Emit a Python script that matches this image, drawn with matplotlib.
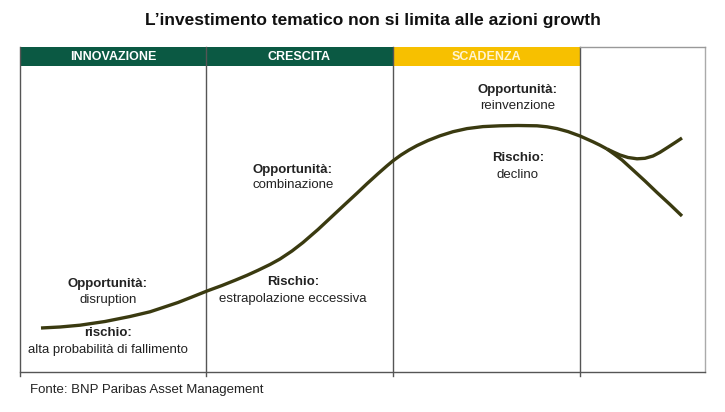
import matplotlib.pyplot as plt
import matplotlib

matplotlib.rcParams['font.family'] = ['Liberation Sans', 'DejaVu Sans']

# fasi del ciclo (bordi delle colonne, in pixel)
stages = ['INNOVAZIONE', 'CRESCITA', 'SCADENZA', '']
stage_edges = [20, 206, 393, 580, 705]
stage_colors = ['#0b5943', '#0b5943', '#f7c000', 'white']
stage_text_colors = ['white', 'white', '#fff4d0', 'white']

# curva principale
curve_x = [41, 60, 80, 105, 130, 150, 163, 178, 192, 207, 222, 235, 247, 258,
           270, 280, 292, 303, 318, 333, 345, 357, 367, 378, 387, 393, 401,
           409, 417, 428, 440, 453, 467, 483, 500, 518, 537, 547, 557, 568,
           580, 593, 600, 607]
curve_y = [328, 327, 325.2, 321.5, 316.5, 311.8, 307.5, 302.5, 297, 291, 285.5, 280.3, 275.3, 270.3,
           264.5, 259, 251, 242.5, 229.5, 215.5, 204.3, 193.2, 183.7, 173.7, 165.8, 160.8, 155,
           150, 145.6, 140.5, 135.8, 131.7, 128.6, 126.6, 125.8, 125.5, 125.8, 126.8, 128.6, 131.6,
           136, 141.8, 145.2, 149]
# ramo superiore (reinvenzione) e inferiore (declino)
up_x = [607, 614, 620, 628, 637, 645, 653, 660, 668, 676, 682]
up_y = [149, 152.3, 155, 157.5, 158.8, 158.3, 156, 152.3, 147.2, 142, 138]
down_x = [607, 614, 622, 633, 645, 657, 670, 682]
down_y = [149, 154, 160, 170, 181, 192.5, 204.5, 216]

labels = [
    (108, 284, 'Opportunità:', 'bold'), (108, 300, 'disruption', 'normal'),
    (108, 333, 'rischio:', 'bold'), (108, 350, 'alta probabilità di fallimento', 'normal'),
    (293, 170, 'Opportunità:', 'bold'), (293, 185, 'combinazione', 'normal'),
    (293, 282, 'Rischio:', 'bold'), (293, 299, 'estrapolazione eccessiva', 'normal'),
    (518, 90, 'Opportunità:', 'bold'), (518, 106, 'reinvenzione', 'normal'),
    (518, 158, 'Rischio:', 'bold'), (518, 175, 'declino', 'normal'),
]

fig = plt.figure(figsize=(7.25, 4.12), dpi=100)
ax = fig.add_axes([0, 0, 1, 1])
ax.set_xlim(0, 725)
ax.set_ylim(412, 0)
ax.axis('off')

# intestazioni
for i, name in enumerate(stages):
    x0, x1 = stage_edges[i], stage_edges[i + 1]
    ax.fill_between([x0, x1], 47, 66, color=stage_colors[i], lw=0)
    if name:
        ax.text((x0 + x1) / 2, 57, name, ha='center', va='center', color=stage_text_colors[i],
                fontsize=9, fontweight='bold')

# griglia
for x in stage_edges[:-1]:
    ax.plot([x, x], [47, 376], color='#555555', lw=1)
ax.plot([stage_edges[-1]] * 2, [47, 372], color='#aaaaaa', lw=1)
ax.plot([stage_edges[-2], stage_edges[-1]], [47, 47], color='#999999', lw=1)
ax.plot([20, 705], [372, 372], color='#555555', lw=1)

# curve
line_kw = dict(color='#3a3a10', lw=2.4, solid_capstyle='butt', solid_joinstyle='round')
ax.plot(curve_x, curve_y, **line_kw)
ax.plot(up_x, up_y, **line_kw)
ax.plot(down_x, down_y, **line_kw)

for x, y, t, w in labels:
    ax.text(x, y, t, ha='center', va='center', fontsize=9.5, fontweight=w, color='#222222')

ax.text(373, 20, 'L’investimento tematico non si limita alle azioni growth',
        ha='center', va='center', fontsize=12.5, fontweight='bold', color='#111111')
ax.text(30, 390, 'Fonte: BNP Paribas Asset Management', ha='left', va='center',
        fontsize=9.5, color='#222222')

plt.savefig('out.png', dpi=100)
plt.close()
